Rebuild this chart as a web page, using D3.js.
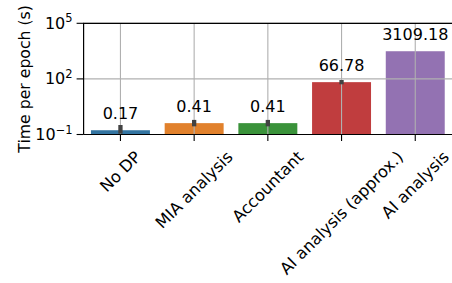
<!DOCTYPE html>
<html>
<head>
<meta charset="utf-8">
<style>
    body { margin: 0; background: white; }
    text { font-family: "DejaVu Sans", sans-serif; fill: black; }
</style>
</head>
<body>
<svg id="container" width="452" height="283"></svg>
<script src="https://cdn.jsdelivr.net/npm/d3@7"></script>
<script>
    // data
    let methods = ["No DP", "MIA analysis", "Accountant", "AI analysis (approx.)", "AI analysis"]
    let times = [0.17, 0.41, 0.41, 66.78, 3109.18]
    let errLow = [0.145, 0.36, 0.36, 66.78, null]
    let errHigh = [0.25, 0.47, 0.47, 66.78, null]
    let colors = ["#3274a1", "#e1812c", "#3a923a", "#c03d3e", "#9372b2"]
    let yTicks = [0.1, 100, 100000]
    let yExps = ["\u22121", "2", "5"]

    let plotLeft = 83.6, plotRight = 452.1, plotTop = 23.3, plotBottom = 134.5

    let svg = d3.select("#container")

    let x = d3.scaleBand()
        .domain(methods)
        .range([plotLeft, plotRight])
        .paddingInner(0.2)
        .paddingOuter(0.1)

    let y = d3.scaleLog()
        .domain([0.1, 100000])
        .range([plotBottom, plotTop])

    let cx = d => x(d) + x.bandwidth() / 2

    // bars
    svg.append("g").selectAll("rect")
        .data(methods)
        .enter()
        .append("rect")
        .attr("x", d => x(d))
        .attr("width", x.bandwidth())
        .attr("y", (d, i) => y(times[i]))
        .attr("height", (d, i) => plotBottom - y(times[i]))
        .attr("fill", (d, i) => colors[i])

    // grid on top of the bars
    let grid = svg.append("g").attr("stroke", "#b0b0b0").attr("stroke-width", 1.1)
    grid.selectAll(".vg")
        .data(methods)
        .enter()
        .append("line")
        .attr("x1", cx).attr("x2", cx)
        .attr("y1", plotTop).attr("y2", plotBottom)
    grid.selectAll(".hg")
        .data(yTicks)
        .enter()
        .append("line")
        .attr("x1", plotLeft).attr("x2", plotRight)
        .attr("y1", d => y(d)).attr("y2", d => y(d))

    // error bars
    svg.append("g").selectAll("line")
        .data(methods.filter((d, i) => errLow[i] != null))
        .enter()
        .append("line")
        .attr("x1", cx).attr("x2", cx)
        .attr("y1", d => y(errLow[methods.indexOf(d)]))
        .attr("y2", d => y(errHigh[methods.indexOf(d)]))
        .attr("stroke", "#424242")
        .attr("stroke-width", 4.3)
        .attr("stroke-linecap", "square")

    // value labels
    svg.append("g").selectAll("text")
        .data(methods)
        .enter()
        .append("text")
        .attr("x", cx)
        .attr("y", (d, i) => y(times[i]) - 11.5)
        .attr("text-anchor", "middle")
        .attr("font-size", "16px")
        .text((d, i) => times[i].toFixed(2))

    // spines
    svg.append("path")
        .attr("d", `M${plotLeft},${plotBottom}V${plotTop}H${plotRight + 1}M${plotLeft},${plotBottom}H${plotRight + 1}`)
        .attr("fill", "none")
        .attr("stroke", "black")
        .attr("stroke-width", 1.2)

    // y ticks
    let yt = svg.append("g").selectAll("g")
        .data(yTicks)
        .enter()
        .append("g")
        .attr("transform", d => `translate(0,${y(d)})`)
    yt.append("line")
        .attr("x1", plotLeft - 7).attr("x2", plotLeft)
        .attr("stroke", "black").attr("stroke-width", 1.1)
    let yl = yt.append("text")
        .attr("x", plotLeft - 11)
        .attr("y", 5.5)
        .attr("text-anchor", "end")
        .attr("font-size", "16px")
    yl.append("tspan").text("10")
    yl.append("tspan")
        .attr("dy", -6.5)
        .attr("font-size", "11.5px")
        .text((d, i) => yExps[i])

    // x ticks
    let xFont = 16.3
    let xt = svg.append("g").selectAll("g")
        .data(methods)
        .enter()
        .append("g")
    xt.append("line")
        .attr("x1", cx).attr("x2", cx)
        .attr("y1", plotBottom).attr("y2", plotBottom + 6.5)
        .attr("stroke", "black").attr("stroke-width", 1.1)
    xt.append("text")
        .attr("text-anchor", "middle")
        .attr("dominant-baseline", "central")
        .attr("font-size", xFont + "px")
        .text(d => d)
        .attr("transform", function (d) {
            let L = this.getComputedTextLength()
            let h = xFont * 1.05
            let ty = 148 + (L + h) / (2 * Math.SQRT2)
            return `translate(${cx(d)},${ty}) rotate(-45)`
        })

    // y label
    svg.append("text")
        .attr("transform", `translate(30,${(plotTop + plotBottom) / 2}) rotate(-90)`)
        .attr("text-anchor", "middle")
        .attr("font-size", "15.7px")
        .text("Time per epoch (s)")
</script>
</body>
</html>
